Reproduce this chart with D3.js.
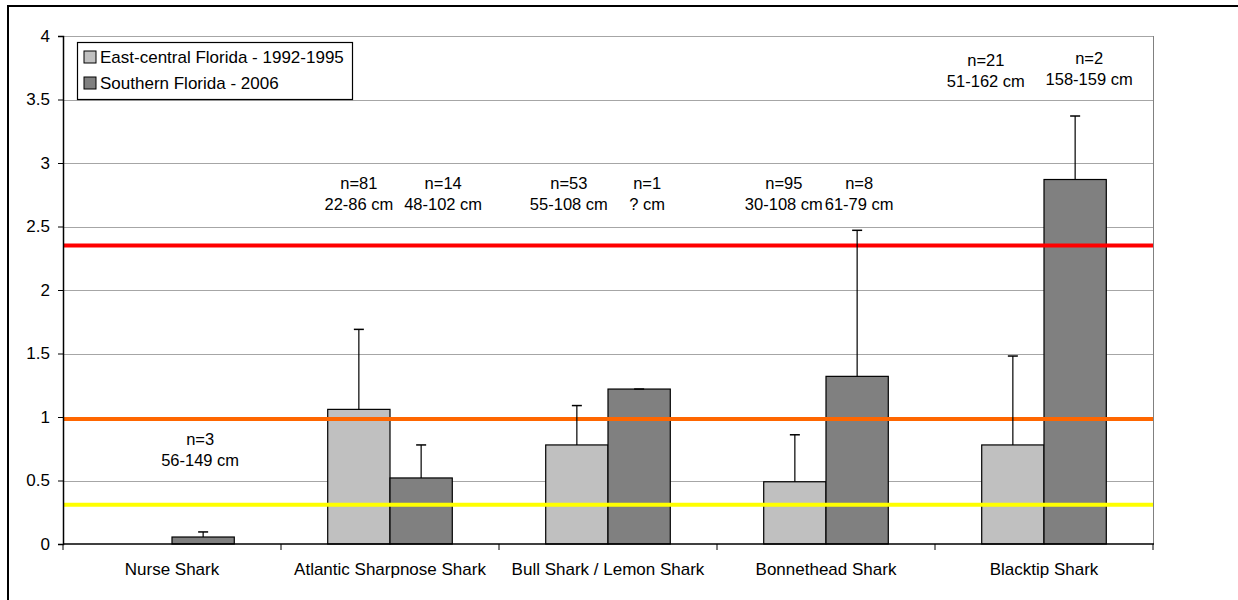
<!DOCTYPE html>
<html>
<head>
<meta charset="utf-8">
<script src="https://cdn.jsdelivr.net/npm/d3@7"></script>
<style>
  body { margin: 0; background: #fff; }
  svg text { font-family: "Liberation Sans", Arial, sans-serif; fill: #000; }
</style>
</head>
<body>
<div id="chart"></div>
<script>
// data
const categories = ["Nurse Shark", "Atlantic Sharpnose Shark", "Bull Shark / Lemon Shark", "Bonnethead Shark", "Blacktip Shark"];
const seriesNames = ["East-central Florida - 1992-1995", "Southern Florida - 2006"];
const eastCentral = [0, 1.06, 0.78, 0.49, 0.78];
const eastCentralErr = [0, 0.63, 0.31, 0.37, 0.70];
const southern = [0.055, 0.52, 1.22, 1.32, 2.87];
const southernErr = [0.04, 0.26, 0, 1.15, 0.50];
const refLines = [2.35, 0.985, 0.31];
const yTicks = [0, 0.5, 1, 1.5, 2, 2.5, 3, 3.5, 4];

// sample size / length annotations
const annotCat = [0, 1, 1, 2, 2, 3, 3, 4, 4];
const annotSeries = [1, 0, 1, 0, 1, 0, 1, 0, 1];
const annotN = ["n=3", "n=81", "n=14", "n=53", "n=1", "n=95", "n=8", "n=21", "n=2"];
const annotRange = ["56-149 cm", "22-86 cm", "48-102 cm", "55-108 cm", "? cm", "30-108 cm", "61-79 cm", "51-162 cm", "158-159 cm"];

const width = 1238;
const height = 600;
const margin = {top: 36, left: 63, right: 85, bottom: 56};

// where each annotation box sits (layout only)
const annotLayout = [
  {dx: -3, level: 0.827}, {dx: 0, level: 2.843}, {dx: 22, level: 2.843},
  {dx: -8, level: 2.843}, {dx: 8, level: 2.843}, {dx: -11, level: 2.843},
  {dx: 2, level: 2.843}, {dx: -27, level: 3.81}, {dx: 14, level: 3.825}
];
const refColors = ["#ff0000", "#ff6600", "#ffff00"];
const fills = ["#c0c0c0", "#808080"];

const svg = d3.select("#chart")
  .append("svg")
  .attr("width", width)
  .attr("height", height);

// outer chart frame (runs off the page right and bottom)
svg.append("rect")
  .attr("x", 8).attr("y", 6)
  .attr("width", width).attr("height", height)
  .attr("fill", "none")
  .attr("stroke", "#000")
  .attr("stroke-width", 2);

const x0 = d3.scaleBand()
  .domain(categories)
  .range([margin.left, width - margin.right])
  .padding(0);

const x1 = d3.scaleBand()
  .domain([0, 1])
  .range([0, x0.bandwidth()])
  .paddingInner(0)
  .paddingOuter(0.75);

const y = d3.scaleLinear()
  .domain([0, 4])
  .range([height - margin.bottom, margin.top]);

const left = margin.left, right = width - margin.right;

/* gridlines */
svg.append("g")
  .selectAll("line")
  .data(yTicks.filter(d => d > 0))
  .enter()
  .append("line")
  .attr("x1", left).attr("x2", right)
  .attr("y1", d => Math.round(y(d)) + 0.5)
  .attr("y2", d => Math.round(y(d)) + 0.5)
  .attr("stroke", "#a6a6a6")
  .attr("stroke-width", 1);

// right edge of plot area
svg.append("line")
  .attr("x1", right + 0.5).attr("x2", right + 0.5)
  .attr("y1", y(4)).attr("y2", y(0))
  .attr("stroke", "#808080");

/* bars */
const values = [eastCentral, southern];
const errs = [eastCentralErr, southernErr];
const barData = [];
categories.forEach((c, i) => {
  [0, 1].forEach(s => {
    barData.push({cat: c, s: s, v: values[s][i], e: errs[s][i]});
  });
});

svg.append("g")
  .selectAll("rect")
  .data(barData.filter(d => d.v > 0))
  .enter()
  .append("rect")
  .attr("x", d => x0(d.cat) + x1(d.s))
  .attr("y", d => y(d.v))
  .attr("width", x1.bandwidth())
  .attr("height", d => y(0) - y(d.v))
  .attr("fill", d => fills[d.s])
  .attr("stroke", "#000")
  .attr("stroke-width", 1.2);

/* reference lines */
svg.append("g")
  .selectAll("line")
  .data(refLines)
  .enter()
  .append("line")
  .attr("x1", left).attr("x2", right)
  .attr("y1", d => y(d)).attr("y2", d => y(d))
  .attr("stroke", (d, i) => refColors[i])
  .attr("stroke-width", 4);

/* error bars (upper only) */
const errG = svg.append("g")
  .selectAll("g")
  .data(barData.filter(d => d.v > 0))
  .enter()
  .append("g");

errG.append("line")
  .attr("x1", d => x0(d.cat) + x1(d.s) + x1.bandwidth() / 2)
  .attr("x2", d => x0(d.cat) + x1(d.s) + x1.bandwidth() / 2)
  .attr("y1", d => y(d.v))
  .attr("y2", d => y(d.v + d.e))
  .attr("stroke", "#000")
  .attr("stroke-width", 1.2);

errG.append("line")
  .attr("x1", d => x0(d.cat) + x1(d.s) + x1.bandwidth() / 2 - 5)
  .attr("x2", d => x0(d.cat) + x1(d.s) + x1.bandwidth() / 2 + 5)
  .attr("y1", d => y(d.v + d.e))
  .attr("y2", d => y(d.v + d.e))
  .attr("stroke", "#000")
  .attr("stroke-width", 1.5);

/* axes */
const yAxis = d3.axisLeft(y)
  .tickValues(yTicks)
  .tickSize(5)
  .tickPadding(8)
  .tickFormat(d => String(d));

svg.append("g")
  .attr("transform", `translate(${left},0)`)
  .call(yAxis)
  .call(g => g.select(".domain").attr("stroke", "#000").attr("stroke-width", 1.5))
  .call(g => g.selectAll("text").attr("font-size", 17).attr("font-family", "Liberation Sans, Arial, sans-serif"));

svg.append("line")
  .attr("x1", left).attr("x2", right + 1)
  .attr("y1", y(0)).attr("y2", y(0))
  .attr("stroke", "#000")
  .attr("stroke-width", 1.5);

// category boundary ticks
svg.append("g")
  .selectAll("line")
  .data(categories.map(c => x0(c)).concat([right]))
  .enter()
  .append("line")
  .attr("x1", d => d).attr("x2", d => d)
  .attr("y1", y(0)).attr("y2", y(0) + 6)
  .attr("stroke", "#000");

svg.append("g")
  .selectAll("text")
  .data(categories)
  .enter()
  .append("text")
  .attr("x", d => x0(d) + x0.bandwidth() / 2)
  .attr("y", y(0) + 31)
  .attr("text-anchor", "middle")
  .attr("font-size", 17)
  .text(d => d);

/* annotations */
const ann = svg.append("g")
  .selectAll("g")
  .data(annotN.map((n, i) => i))
  .enter()
  .append("g")
  .attr("transform", i => {
    const cx = x0(categories[annotCat[i]]) + x1(annotSeries[i]) + x1.bandwidth() / 2 + annotLayout[i].dx;
    return `translate(${cx},${y(annotLayout[i].level)})`;
  });

ann.append("text")
  .attr("y", 6)
  .attr("text-anchor", "middle")
  .attr("font-size", 16.5)
  .text(i => annotN[i]);

ann.append("text")
  .attr("y", 27)
  .attr("text-anchor", "middle")
  .attr("font-size", 16.5)
  .text(i => annotRange[i]);

/* legend */
const legend = svg.append("g").attr("transform", "translate(77,42)");
legend.append("rect")
  .attr("x", 0.5).attr("y", 0.5)
  .attr("width", 275).attr("height", 57)
  .attr("fill", "#fff")
  .attr("stroke", "#000")
  .attr("stroke-width", 1.2);

const items = legend.selectAll("g.item")
  .data(seriesNames)
  .enter()
  .append("g")
  .attr("class", "item")
  .attr("transform", (d, i) => `translate(7,${15 + i * 26})`);

items.append("rect")
  .attr("x", 0).attr("y", -6)
  .attr("width", 12).attr("height", 12)
  .attr("fill", (d, i) => fills[i])
  .attr("stroke", "#000");

items.append("text")
  .attr("x", 16)
  .attr("y", 6)
  .attr("font-size", 17)
  .text(d => d);
</script>
</body>
</html>
